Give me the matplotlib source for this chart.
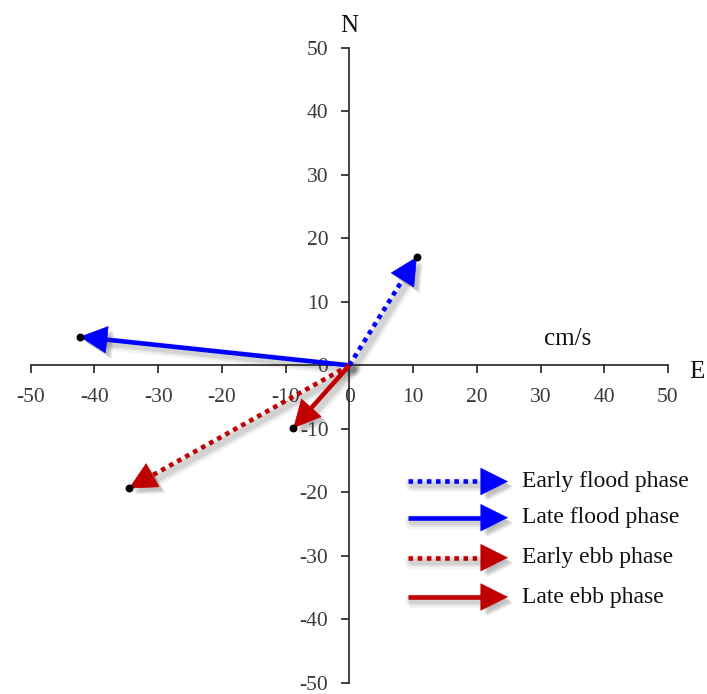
import numpy as np
import matplotlib
matplotlib.use("Agg")
import matplotlib.pyplot as plt
import matplotlib.patheffects as pe
import matplotlib.transforms as mtransforms

# Residual current vectors (cm/s): east and north components
phases = ["Early flood phase", "Late flood phase", "Early ebb phase", "Late ebb phase"]
east = [10.6, -42.3, -34.6, -8.8]
north = [17.1, 4.5, -19.4, -9.9]
colors = ["#0000FF", "#0000FF", "#C00000", "#C00000"]
dotted = [True, False, True, False]

tick_values = list(range(-50, 51, 10))

plt.rcParams["font.family"] = ["Liberation Serif", "DejaVu Serif"]
plt.rcParams["axes.unicode_minus"] = False

fig = plt.figure(figsize=(7.07, 6.94), dpi=100)
ax = fig.add_axes([0.0434, 0.0163, 0.9014, 0.9145])
ax.set_xlim(-50, 50)
ax.set_ylim(-50, 50)

# Cross-shaped axes through the origin
for side in ("top", "right"):
    ax.spines[side].set_visible(False)
ax.spines["left"].set_position(("data", 0))
ax.spines["bottom"].set_position(("data", 0))
for side in ("left", "bottom"):
    ax.spines[side].set_linewidth(1.2)
    ax.spines[side].set_color("#222222")

ax.set_xticks(tick_values)
ax.set_yticks(tick_values)
ax.tick_params(axis="both", direction="out", length=6, width=1.2, color="#222222",
               labelsize=15.5, labelcolor="#3a3a3a")
ax.tick_params(axis="x", pad=10)
ax.tick_params(axis="y", pad=9)

# Soft drop shadow: translucent solid bands offset down-right
shadow_tr = mtransforms.offset_copy(ax.transData, fig=fig, x=4, y=-4, units="dots")
shadow_patch = [
    pe.SimplePatchShadow(offset=(4.5, -4.5), shadow_rgbFace="#444444", alpha=0.10),
    pe.SimplePatchShadow(offset=(3.5, -3.5), shadow_rgbFace="#444444", alpha=0.15),
    pe.SimplePatchShadow(offset=(2.5, -2.5), shadow_rgbFace="#444444", alpha=0.10),
    pe.Normal(),
]

HEAD_LEN = 3.6  # data units


def draw_vector(x0, y0, x1, y1, color, is_dotted):
    d = np.hypot(x1 - x0, y1 - y0)
    ux, uy = (x1 - x0) / d, (y1 - y0) / d
    bx, by = x1 - ux * HEAD_LEN, y1 - uy * HEAD_LEN
    sx, sy = [x0, bx + ux * 0.5], [y0, by + uy * 0.5]
    for w, a in ((10, 0.06), (7, 0.08), (4.5, 0.12)):
        ax.plot(sx, sy, color="#444444", lw=w, alpha=a, solid_capstyle="round",
                transform=shadow_tr, zorder=2)
    ls = (0, (1, 1)) if is_dotted else "-"
    ax.plot(sx, sy, color=color, lw=3.3, ls=ls,
            solid_capstyle="butt", dash_capstyle="butt", zorder=3)
    ax.annotate("", xy=(x1, y1), xytext=(x1 - ux * 1.0, y1 - uy * 1.0),
                arrowprops=dict(arrowstyle="-|>,head_length=19,head_width=9.5",
                                mutation_scale=1, color=color, lw=0.5,
                                shrinkA=0, shrinkB=0,
                                path_effects=shadow_patch),
                zorder=4)


for e, n, c, dt in zip(east, north, colors, dotted):
    draw_vector(0, 0, e, n, c, dt)

ax.scatter(east, north, s=22, color="black", zorder=5)

# Legend drawn as sample arrows with labels
leg_x0, leg_x1, leg_tx = 9.2, 24.9, 27.1
leg_y = [-18.3, -24.0, -30.3, -36.5]
for label, c, dt, yy in zip(phases, colors, dotted, leg_y):
    draw_vector(leg_x0, yy, leg_x1, yy, c, dt)
    ax.text(leg_tx, yy, label, fontsize=17, color="#111111", va="center", ha="left")

ax.text(0, 53.5, "N", fontsize=18, ha="center", va="center", color="#111111",
        clip_on=False)
ax.text(54.5, -1.0, "E", fontsize=18, ha="center", va="center", color="#111111",
        clip_on=False)
ax.text(30.5, 4.2, "cm/s", fontsize=18, ha="left", va="center", color="#111111")

fig.savefig("out.png", dpi=100)
